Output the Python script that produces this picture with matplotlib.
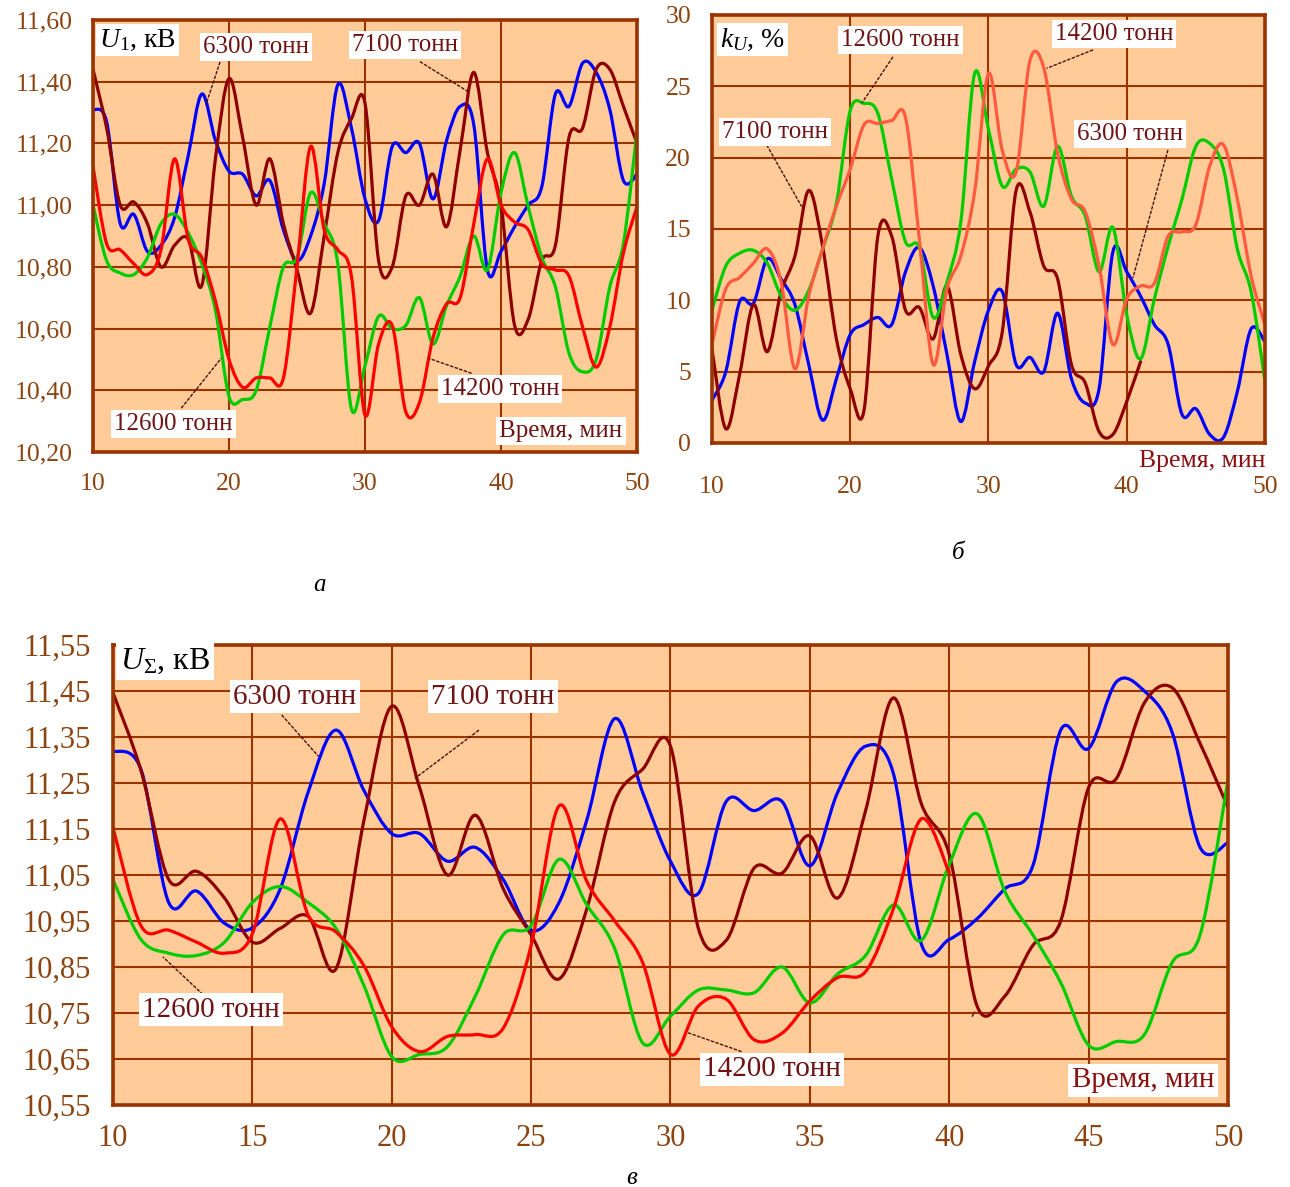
import numpy as np
import matplotlib
matplotlib.use('Agg')
import matplotlib.pyplot as plt
from matplotlib.path import Path
from matplotlib.patches import PathPatch

plt.rcParams['font.family'] = ['Liberation Serif', 'DejaVu Serif']
plt.rcParams['mathtext.fontset'] = 'custom'
plt.rcParams['mathtext.rm'] = 'Liberation Serif'
plt.rcParams['mathtext.it'] = 'Liberation Serif:italic'

# ---- data (minutes 10..50, one reading per minute) ----
MINUTES = list(range(10, 51))

# a) U1, kV
A_6300 = [11.31, 11.27, 10.94, 10.97, 10.85, 10.87, 10.96, 11.16, 11.36, 11.21,
          11.11, 11.10, 11.03, 11.08, 10.92, 10.82, 10.90, 11.07, 11.39, 11.25,
          11.02, 10.95, 11.19, 11.17, 11.20, 11.02, 11.21, 11.32, 11.26, 10.79,
          10.85, 10.93, 11.00, 11.06, 11.36, 11.32, 11.46, 11.43, 11.31, 11.08, 11.10]
A_7100 = [11.44, 11.25, 11.00, 11.01, 10.94, 10.80, 10.87, 10.89, 10.74, 11.15,
          11.41, 11.22, 11.00, 11.15, 10.94, 10.79, 10.65, 10.90, 11.17, 11.28,
          11.33, 10.82, 10.80, 11.03, 11.00, 11.10, 10.93, 11.18, 11.43, 11.17,
          11.00, 10.61, 10.63, 10.82, 10.87, 11.22, 11.25, 11.44, 11.44, 11.32, 11.20]
A_12600 = [11.00, 10.82, 10.78, 10.775, 10.83, 10.94, 10.97, 10.91, 10.81, 10.66,
           10.38, 10.37, 10.40, 10.605, 10.80, 10.83, 11.04, 10.94, 10.81, 10.34,
           10.48, 10.64, 10.60, 10.61, 10.70, 10.55, 10.675, 10.77, 10.90, 10.79,
           11.04, 11.17, 10.995, 10.83, 10.735, 10.52, 10.46, 10.50, 10.735, 10.875, 11.24]
A_14200 = [11.125, 10.875, 10.855, 10.81, 10.775, 10.855, 11.15, 10.89, 10.83, 10.69,
           10.50, 10.41, 10.44, 10.44, 10.44, 10.80, 11.19, 10.92, 10.855, 10.77,
           10.32, 10.55, 10.61, 10.33, 10.36, 10.57, 10.68, 10.70, 10.94, 11.15,
           11.00, 10.945, 10.92, 10.81, 10.79, 10.77, 10.605, 10.475, 10.605, 10.845, 10.995]

# б) kU, %
B_6300 = [3.0, 5.0, 9.9, 9.8, 12.9, 11.5, 9.7, 5.5, 1.6, 4.5,
          7.6, 8.3, 8.8, 8.3, 12.0, 13.7, 11.0, 6.2, 1.5, 5.7,
          9.3, 10.6, 5.5, 6.0, 5.0, 9.1, 4.5, 2.8, 3.8, 13.4,
          12.0, 10.3, 8.3, 6.9, 2.0, 2.4, 0.6, 0.4, 3.6, 8.0, 7.1]
B_7100 = [6.6, 1.0, 4.8, 9.7, 6.4, 10.6, 13.1, 17.7, 13.8, 7.3,
          3.8, 2.3, 14.5, 14.5, 9.3, 9.5, 7.3, 11.0, 6.2, 3.8,
          5.4, 7.8, 17.7, 16.2, 12.4, 11.5, 5.5, 4.2, 0.8, 0.6, 2.9, 5.7]   # ends at 41 min
B_12600 = [9.3, 12.4, 13.3, 13.5, 12.6, 10.3, 9.3, 10.7, 13.6, 16.8,
           23.3, 23.8, 23.1, 18.5, 14.1, 13.7, 8.8, 11.3, 15.5, 25.9,
           22.0, 18.0, 19.2, 19.0, 16.6, 20.8, 17.3, 15.9, 12.0, 15.1,
           9.0, 5.9, 10.1, 13.8, 17.1, 20.8, 21.0, 19.2, 13.6, 10.6, 4.3]
B_14200 = [6.9, 10.8, 11.6, 12.6, 13.6, 11.3, 5.2, 10.3, 13.6, 16.6,
           19.2, 22.3, 22.4, 22.6, 22.8, 14.3, 5.5, 10.8, 13.1, 17.6,
           25.9, 20.5, 19.0, 26.8, 26.3, 20.3, 17.1, 16.2, 12.4, 6.9,
           10.1, 11.0, 11.2, 14.5, 14.8, 15.3, 19.4, 20.9, 17.1, 11.7, 8.3]

# в) U_sum, kV
C_6300 = [11.32, 11.28, 10.99, 11.015, 10.945, 10.935, 11.02, 11.23, 11.365, 11.234,
          11.14, 11.14, 11.08, 11.11, 11.04, 10.93, 10.99, 11.17, 11.39, 11.23,
          11.08, 11.01, 11.21, 11.19, 11.21, 11.07, 11.23, 11.33, 11.27, 10.90,
          10.91, 10.955, 11.02, 11.07, 11.365, 11.325, 11.47, 11.45, 11.36, 11.11, 11.12]
C_7100 = [11.446, 11.278, 11.04, 11.058, 11.0, 10.904, 10.934, 10.96, 10.846, 11.168,
          11.417, 11.24, 11.05, 11.18, 11.02, 10.92, 10.824, 10.977, 11.21, 11.28,
          11.33, 10.934, 10.908, 11.065, 11.054, 11.135, 11.0, 11.19, 11.435, 11.205,
          11.095, 10.765, 10.787, 10.897, 10.95, 11.24, 11.26, 11.424, 11.457, 11.336, 11.197]
C_12600 = [11.04, 10.91, 10.88, 10.875, 10.904, 10.99, 11.025, 10.99, 10.934, 10.81,
           10.655, 10.66, 10.677, 10.787, 10.92, 10.94, 11.084, 10.985, 10.89, 10.685,
           10.743, 10.80, 10.80, 10.794, 10.85, 10.772, 10.835, 10.875, 10.985, 10.908,
           11.073, 11.183, 11.014, 10.92, 10.816, 10.68, 10.688, 10.703, 10.86, 10.92, 11.256]
C_14200 = [11.153, 10.94, 10.93, 10.904, 10.88, 10.922, 11.172, 10.963, 10.926, 10.853,
           10.72, 10.666, 10.699, 10.703, 10.717, 10.897, 11.20, 11.036, 10.95, 10.86,
           10.66, 10.765, 10.78, 10.692, 10.706, 10.776, 10.827, 10.84, 10.977, 11.172, 11.055]  # ends at 40 min

A_YTICKS = [10.20, 10.40, 10.60, 10.80, 11.00, 11.20, 11.40, 11.60]
A_YLABELS = ['10,20', '10,40', '10,60', '10,80', '11,00', '11,20', '11,40', '11,60']
B_YTICKS = [0, 5, 10, 15, 20, 25, 30]
B_YLABELS = ['0', '5', '10', '15', '20', '25', '30']
TOP_XTICKS = [10, 20, 30, 40, 50]
C_YTICKS = [10.55, 10.65, 10.75, 10.85, 10.95, 11.05, 11.15, 11.25, 11.35, 11.45, 11.55]
C_YLABELS = ['10,55', '10,65', '10,75', '10,85', '10,95', '11,05', '11,15', '11,25',
             '11,35', '11,45', '11,55']
C_XTICKS = [10, 15, 20, 25, 30, 35, 40, 45, 50]

BG = '#FFCC99'
FRAME = '#993300'
TICK_C = '#8C4410'
LABEL_C = '#6E1414'
C_BLUE = '#0000FF'
C_DARK = '#8E0000'
C_GREEN = '#00CC00'
C_RED = '#FF0000'
C_RED_B = '#FF5A40'


def smooth_path(x, y):
    """Bezier path through the points (like Excel 'smoothed line')."""
    pts = np.column_stack([x, y]).astype(float)
    n = len(pts)
    verts = [pts[0]]
    codes = [Path.MOVETO]
    for i in range(n - 1):
        p0 = pts[i - 1] if i > 0 else pts[i]
        p1 = pts[i]
        p2 = pts[i + 1]
        p3 = pts[i + 2] if i + 2 < n else pts[i + 1]
        verts += [p1 + (p2 - p0) / 6, p2 - (p3 - p1) / 6, p2]
        codes += [Path.CURVE4] * 3
    return Path(verts, codes)


def draw_series(ax, y, color, lw=2.3):
    x = MINUTES[:len(y)]
    patch = PathPatch(smooth_path(x, y), facecolor='none', edgecolor=color,
                      lw=lw, capstyle='round', joinstyle='round', zorder=3)
    ax.add_patch(patch)


def style_axes(ax, xlim, ylim, xticks, yticks, ylabels, fs, xpad, ypad):
    ax.set_facecolor(BG)
    ax.set_xlim(*xlim)
    ax.set_ylim(*ylim)
    ax.set_xticks(xticks)
    ax.set_xticklabels([str(t) for t in xticks])
    ax.set_yticks(yticks)
    ax.set_yticklabels(ylabels)
    ax.tick_params(length=0, labelsize=fs, labelcolor=TICK_C)
    ax.tick_params(axis='x', pad=xpad)
    ax.tick_params(axis='y', pad=ypad)
    ax.grid(True, color=FRAME, lw=1.5)
    ax.set_axisbelow(True)
    for s in ax.spines.values():
        s.set_color(FRAME)
        s.set_linewidth(2.6)
        s.set_zorder(4)


def label(ax, x, y, text, fs, ha='center', color=LABEL_C):
    ax.text(x, y, text, fontsize=fs, color=color, ha=ha, va='center', zorder=6,
            bbox=dict(boxstyle='square,pad=0.12', fc='white', ec='none'))


def leader(ax, x0, y0, x1, y1):
    ax.plot([x0, x1], [y0, y1], color='#4A1010', lw=1.0, ls=(0, (2.5, 1)), zorder=4)


fig = plt.figure(figsize=(12.9, 11.87), dpi=100)

# ---------- panel a ----------
ax1 = fig.add_axes([0.0721, 0.6192, 0.4217, 0.3640])
style_axes(ax1, (10, 50), (10.20, 11.60), TOP_XTICKS, A_YTICKS, A_YLABELS, 18.5, 15, 15)
draw_series(ax1, A_6300, C_BLUE)
draw_series(ax1, A_7100, C_DARK)
draw_series(ax1, A_12600, C_GREEN)
draw_series(ax1, A_14200, C_RED)
label(ax1, 10.45, 11.535, r'$U_{\mathrm{1}}$, кВ', 20, ha='left', color='black')
label(ax1, 21.99, 11.511, '6300 тонн', 18)
label(ax1, 32.94, 11.519, '7100 тонн', 18)
label(ax1, 15.92, 10.291, '12600 тонн', 18)
label(ax1, 39.93, 10.404, '14200 тонн', 18)
label(ax1, 44.41, 10.268, 'Время, мин', 18)
leader(ax1, 19.34, 11.464, 18.3, 11.325)
leader(ax1, 34.04, 11.465, 37.57, 11.368)
leader(ax1, 16.49, 10.342, 19.43, 10.504)
leader(ax1, 37.84, 10.455, 34.65, 10.504)

# ---------- panel б ----------
ax2 = fig.add_axes([0.5519, 0.6268, 0.4287, 0.3606])
style_axes(ax2, (10, 50), (0, 30), TOP_XTICKS, B_YTICKS, B_YLABELS, 18.5, 24, 15)
draw_series(ax2, B_6300, C_BLUE)
draw_series(ax2, B_7100, C_DARK)
draw_series(ax2, B_12600, C_GREEN)
draw_series(ax2, B_14200, C_RED_B)
label(ax2, 10.58, 28.28, r'$k_{U}$, %', 20, ha='left', color='black')
label(ax2, 23.63, 28.25, '12600 тонн', 18)
label(ax2, 14.56, 21.77, '7100 тонн', 18)
label(ax2, 39.08, 28.67, '14200 тонн', 18)
label(ax2, 40.27, 21.66, '6300 тонн', 18)
leader(ax2, 23.09, 27.06, 20.85, 23.83)
leader(ax2, 13.96, 20.89, 16.49, 16.57)
leader(ax2, 37.56, 27.55, 34.21, 26.26)
leader(ax2, 42.98, 20.54, 40.45, 11.57)
ax2.text(1.0, -0.042, 'Время, мин', transform=ax2.transAxes, fontsize=18.5,
         color='#8B1010', ha='right', va='center')

# ---------- panel в ----------
ax3 = fig.add_axes([0.0876, 0.0691, 0.8643, 0.3875])
style_axes(ax3, (10, 50), (10.55, 11.55), C_XTICKS, C_YTICKS, C_YLABELS, 22, 14, 16)
draw_series(ax3, C_6300, C_BLUE)
draw_series(ax3, C_7100, C_DARK)
draw_series(ax3, C_12600, C_GREEN)
draw_series(ax3, C_14200, C_RED)
label(ax3, 10.25, 11.515, r'$U_{\mathrm{\Sigma}}$, кВ', 23, ha='left', color='black')
label(ax3, 16.53, 11.437, '6300 тонн', 21)
label(ax3, 23.63, 11.437, '7100 тонн', 21)
label(ax3, 13.52, 10.757, '12600 тонн', 21)
label(ax3, 33.64, 10.628, '14200 тонн', 21)
label(ax3, 46.95, 10.604, 'Время, мин', 21, color='#8B1010')
leader(ax3, 16.05, 11.398, 17.37, 11.308)
leader(ax3, 23.13, 11.365, 20.83, 11.26)
leader(ax3, 13.23, 10.79, 11.79, 10.872)
leader(ax3, 32.55, 10.666, 30.63, 10.707)
leader(ax3, 40.82, 10.742, 40.92, 10.753)

# panel letters
fig.text(320 / 1290, 1 - 585 / 1187, 'а', fontsize=18, style='italic', ha='center', va='center')
fig.text(958 / 1290, 1 - 553 / 1187, 'б', fontsize=18, style='italic', ha='center', va='center')
fig.text(632 / 1290, 1 - 1178 / 1187, 'в', fontsize=18, style='italic', ha='center', va='center')

fig.savefig('out.png', dpi=100, facecolor='white')
